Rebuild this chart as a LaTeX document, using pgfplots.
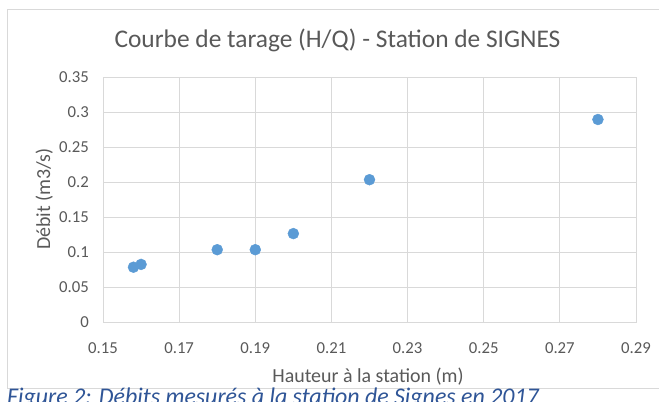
\documentclass[border=0pt]{standalone}
\usepackage{pgfplots}
\pgfplotsset{compat=1.18}
\usepackage{fontspec}
\setmainfont{Carlito}
\definecolor{txt}{HTML}{595959}
\definecolor{gridc}{HTML}{D9D9D9}
\definecolor{dot}{HTML}{5B9BD5}
\definecolor{capc}{HTML}{2F5597}
\begin{document}
\begin{tikzpicture}[x=1bp,y=1bp]
\clip (0bp,0bp) rectangle (659bp,402bp);
\fill[white] (0bp,0bp) rectangle (659bp,402bp);
\draw[gridc, line width=0.9bp] (7bp,14bp) rectangle (690bp,393bp);
\begin{axis}[
  at={(103bp,79.5bp)}, anchor=south west,
  scale only axis, width=533bp, height=245bp,
  xmin=0.15, xmax=0.29, ymin=0, ymax=0.35,
  xtick={0.15,0.17,0.19,0.21,0.23,0.25,0.27,0.29},
  ytick={0,0.05,0.1,0.15,0.2,0.25,0.3,0.35},
  /pgf/number format/.cd, fixed, precision=2, assume math mode=true, /pgfplots/.cd,
  grid=major,
  major grid style={gridc, line width=0.9bp},
  axis line style={gridc, line width=0.9bp},
  major tick length=0pt,
  tick style={draw=none},
  ticklabel style={font=\fontsize{16.8}{20}\selectfont, text=txt, inner sep=0pt},
  yticklabel style={anchor=east, xshift=-14bp},
  xticklabel style={anchor=north, yshift=-19.5bp},
  clip=false,
]
\addplot[only marks, mark=*, mark size=5.5pt, mark options={fill=dot, draw=dot}] coordinates {
  (0.158,0.079) (0.160,0.083) (0.180,0.104) (0.190,0.104)
  (0.200,0.127) (0.220,0.204) (0.280,0.290)
};
\end{axis}
\node[text=txt, font=\fontsize{25.5}{30}\selectfont, anchor=base, inner sep=0pt] at (337.5bp,354.3bp) {Courbe de tarage (H/Q) - Station de SIGNES};
\node[text=txt, font=\fontsize{20}{24}\selectfont, anchor=base, inner sep=0pt] at (368bp,20bp) {Hauteur à la station (m)};
\node[text=txt, font=\fontsize{20}{24}\selectfont, anchor=base, rotate=90, inner sep=0pt] at (50bp,203bp) {Débit (m3/s)};
\node[text=capc, font=\fontsize{24}{28}\selectfont\itshape, anchor=base west, inner sep=0pt] at (7bp,-2.5bp) {Figure 2: Débits mesurés à la station de Signes en 2017};
\end{tikzpicture}
\end{document}
